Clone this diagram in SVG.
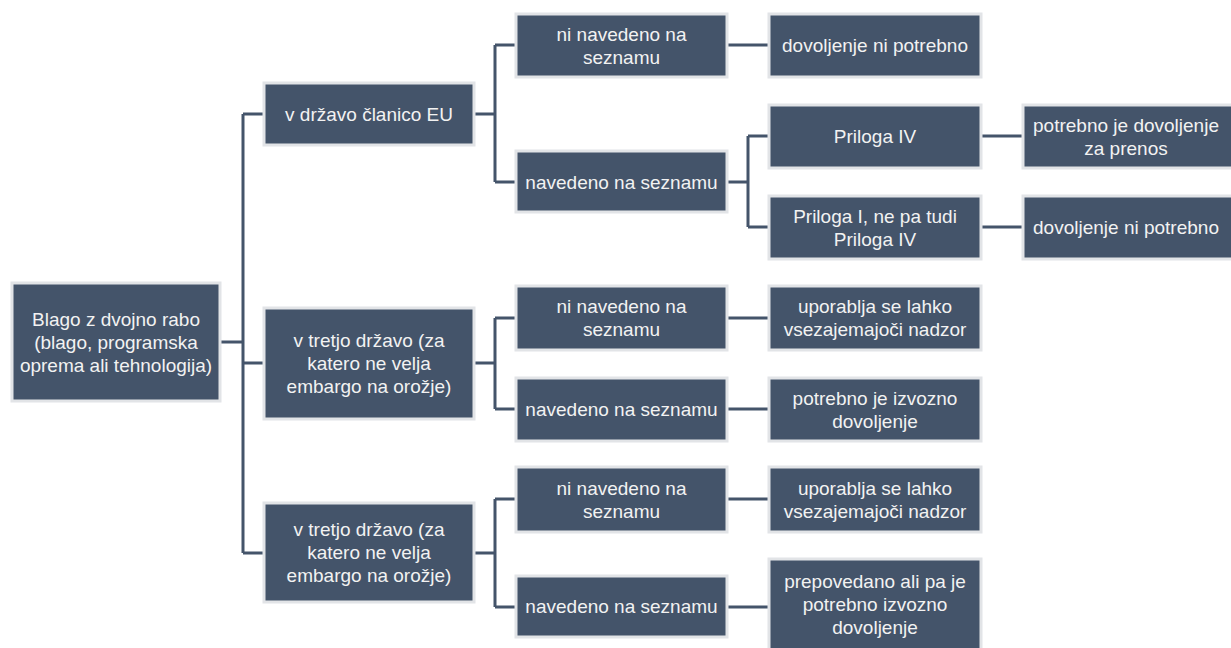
<svg xmlns="http://www.w3.org/2000/svg" width="1231" height="648" viewBox="0 0 1231 648">
<style>
.b{fill:#44546A;stroke:#E2E4E7;stroke-width:3}
.t{font-family:"Liberation Sans",Arial,sans-serif;font-size:19px;fill:#F2F2F2;text-anchor:middle;dominant-baseline:central}
.c{fill:none;stroke:#44546A;stroke-width:3}
</style>
<rect width="1231" height="648" fill="#fff"/>
<g id="connectors">
<path class="c" d="M220,342H243M243,114V553M243,114H263M243,363H263M243,553H263"/>
<path class="c" d="M475,114H495M495,45V182M495,45H515M495,182H515"/>
<path class="c" d="M475,363H495M495,318V409M495,318H515M495,409H515"/>
<path class="c" d="M475,553H495M495,499V607M495,499H515M495,607H515"/>
<path class="c" d="M728,45H768M728,182H748M748,136V227M748,136H768M748,227H768"/>
<path class="c" d="M728,318H768M728,409H768M728,499H768M728,607H768"/>
<path class="c" d="M982,136H1022M982,227H1022"/>
</g>
<g id="root"><rect class="b" x="12" y="283" width="208" height="118"/>
<text class="t" x="116" y="319">Blago z dvojno rabo</text><text class="t" x="116" y="342">(blago, programska</text><text class="t" x="116" y="365">oprema ali tehnologija)</text></g>
<g id="eu"><rect class="b" x="264" y="83" width="210" height="62"/>
<text class="t" x="369" y="114">v državo članico EU</text></g>
<g id="tretja1"><rect class="b" x="264" y="308" width="210" height="111"/>
<text class="t" x="369" y="340">v tretjo državo (za</text><text class="t" x="369" y="363">katero ne velja</text><text class="t" x="369" y="386">embargo na orožje)</text></g>
<g id="tretja2"><rect class="b" x="264" y="503" width="210" height="99"/>
<text class="t" x="369" y="529">v tretjo državo (za</text><text class="t" x="369" y="552">katero ne velja</text><text class="t" x="369" y="575">embargo na orožje)</text></g>
<g id="eu-ni"><rect class="b" x="516" y="14" width="211" height="63"/>
<text class="t" x="621.5" y="34">ni navedeno na</text><text class="t" x="621.5" y="57">seznamu</text></g>
<g id="eu-je"><rect class="b" x="516" y="151" width="211" height="61"/>
<text class="t" x="621.5" y="182">navedeno na seznamu</text></g>
<g id="t1-ni"><rect class="b" x="516" y="286" width="211" height="64"/>
<text class="t" x="621.5" y="306.5">ni navedeno na</text><text class="t" x="621.5" y="329.5">seznamu</text></g>
<g id="t1-je"><rect class="b" x="516" y="378" width="211" height="63"/>
<text class="t" x="621.5" y="409">navedeno na seznamu</text></g>
<g id="t2-ni"><rect class="b" x="516" y="467" width="211" height="65"/>
<text class="t" x="621.5" y="488">ni navedeno na</text><text class="t" x="621.5" y="511">seznamu</text></g>
<g id="t2-je"><rect class="b" x="516" y="576" width="211" height="61"/>
<text class="t" x="621.5" y="606">navedeno na seznamu</text></g>
<g id="eu-ni-r"><rect class="b" x="769" y="14" width="212" height="63"/>
<text class="t" x="875" y="45.5">dovoljenje ni potrebno</text></g>
<g id="priloga4"><rect class="b" x="769" y="105" width="212" height="63"/>
<text class="t" x="875" y="136">Priloga IV</text></g>
<g id="priloga1"><rect class="b" x="769" y="196" width="212" height="63"/>
<text class="t" x="875" y="216">Priloga I, ne pa tudi</text><text class="t" x="875" y="239">Priloga IV</text></g>
<g id="t1-ni-r"><rect class="b" x="769" y="286" width="212" height="64"/>
<text class="t" x="875" y="306.5">uporablja se lahko</text><text class="t" x="875" y="329.5">vsezajemajoči nadzor</text></g>
<g id="t1-je-r"><rect class="b" x="769" y="378" width="212" height="63"/>
<text class="t" x="875" y="398">potrebno je izvozno</text><text class="t" x="875" y="421">dovoljenje</text></g>
<g id="t2-ni-r"><rect class="b" x="769" y="467" width="212" height="65"/>
<text class="t" x="875" y="488">uporablja se lahko</text><text class="t" x="875" y="511">vsezajemajoči nadzor</text></g>
<g id="t2-je-r"><rect class="b" x="769" y="559" width="212" height="95"/>
<text class="t" x="875" y="581">prepovedano ali pa je</text><text class="t" x="875" y="604">potrebno izvozno</text><text class="t" x="875" y="627">dovoljenje</text></g>
<g id="p4-r"><rect class="b" x="1023" y="105" width="212" height="63"/>
<text class="t" x="1126" y="125">potrebno je dovoljenje</text><text class="t" x="1126" y="148">za prenos</text></g>
<g id="p1-r"><rect class="b" x="1023" y="196" width="212" height="63"/>
<text class="t" x="1126" y="227.5">dovoljenje ni potrebno</text></g>
</svg>
